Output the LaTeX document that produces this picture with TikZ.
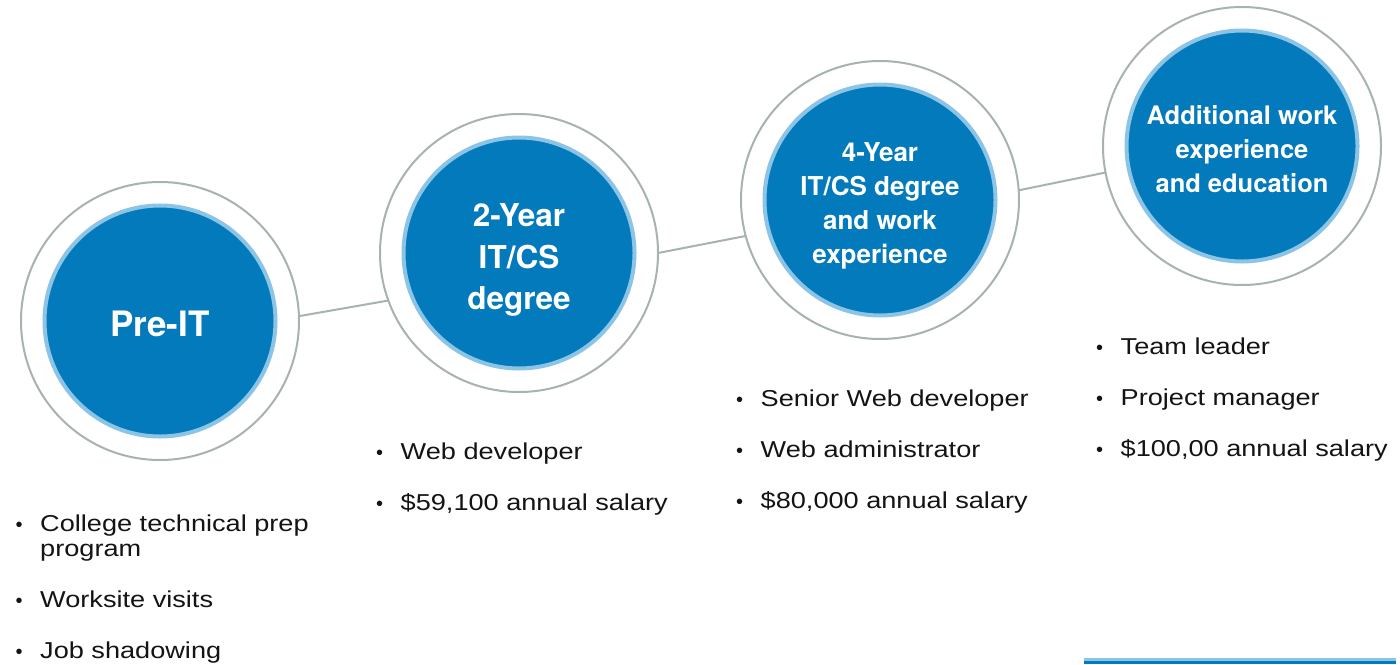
\documentclass[tikz,border=0pt]{standalone}
\usepackage{fontspec}
\newfontfamily\headfont{TeX Gyre Heros}
\newfontfamily\bodyfont{Liberation Sans}[FakeStretch=1.18]
\newfontfamily\bulfont{Liberation Sans}
\definecolor{dblue}{RGB}{3,122,188}
\definecolor{lblue}{RGB}{140,196,230}
\definecolor{ringgray}{RGB}{168,178,178}
\definecolor{bodytext}{RGB}{20,20,20}
\newcommand\bul{\llap{{\bulfont\fontsize{20}{20}\selectfont\textbullet}\hspace{17.5pt}}}
\begin{document}
\begin{tikzpicture}[x=1pt,y=-1pt,
  outer/.style={circle, draw=ringgray, line width=2pt, minimum size=278pt, inner sep=0pt, outer sep=0pt},
  inner/.style={circle, fill=dblue, draw=lblue, line width=4pt, minimum size=231pt, inner sep=0pt},
  head/.style={inner sep=0pt, text=white, align=center},
  conn/.style={draw=ringgray, line width=2pt},
  item/.style={anchor=base west, inner sep=0pt, text=bodytext, font=\bodyfont\fontsize{23}{25}\selectfont}]
\useasboundingbox (0,0) rectangle (1400,664);
\fill[white] (0,0) rectangle (1400,664);

% circles
\node[outer] (c1o) at (160,321) {};
\node[inner] (c1) at (160,321) {};
\node[head, font={\headfont\bfseries\fontsize{35}{40}\selectfont}] (t1) at (160,324) {Pre-IT};

\node[outer] (c2o) at (519,253) {};
\node[inner] (c2) at (519,253) {};
\node[head, font={\headfont\bfseries\fontsize{31.5}{41.7}\selectfont}] (t2) at (519,260) {2-Year\\IT/CS\\degree};

\node[outer] (c3o) at (880,200) {};
\node[inner] (c3) at (880,200) {};
\node[head, font={\headfont\bfseries\fontsize{26}{34}\selectfont}] (t3) at (880,205.5) {4-Year\\IT/CS degree\\and work\\experience};

\node[outer] (c4o) at (1242,146) {};
\node[inner] (c4) at (1242,146) {};
\node[head, font={\headfont\bfseries\fontsize{25.5}{34}\selectfont}] (t4) at (1242,149) {Additional work\\experience\\and education};

% connectors
\draw[conn] (c1o.2.5) -- (c2o.200);
\draw[conn] (c2o.0.5) -- (c3o.195.8);
\draw[conn] (c3o.4.6) -- (c4o.191.6);

% lists
\node[item] (l1a) at (40,531) {\bul College technical prep};
\node[item] (l1b) at (40,556) {program};
\node[item] (l1c) at (40,607) {\bul Worksite visits};
\node[item] (l1d) at (40,658) {\bul Job shadowing};

\node[item] (l2a) at (400.5,459) {\bul Web developer};
\node[item] (l2b) at (400.5,510) {\bul \$59,100 annual salary};

\node[item] (l3a) at (760.5,406) {\bul Senior Web developer};
\node[item] (l3b) at (760.5,457) {\bul Web administrator};
\node[item] (l3c) at (760.5,508) {\bul \$80,000 annual salary};

\node[item] (l4a) at (1120.5,354) {\bul Team leader};
\node[item] (l4b) at (1120.5,405) {\bul Project manager};
\node[item] (l4c) at (1120.5,456) {\bul \$100,00 annual salary};

% bottom bar
\fill[lblue] (1084,658) rectangle (1396,661);
\fill[dblue] (1084,661) rectangle (1396,664);
\end{tikzpicture}
\end{document}
